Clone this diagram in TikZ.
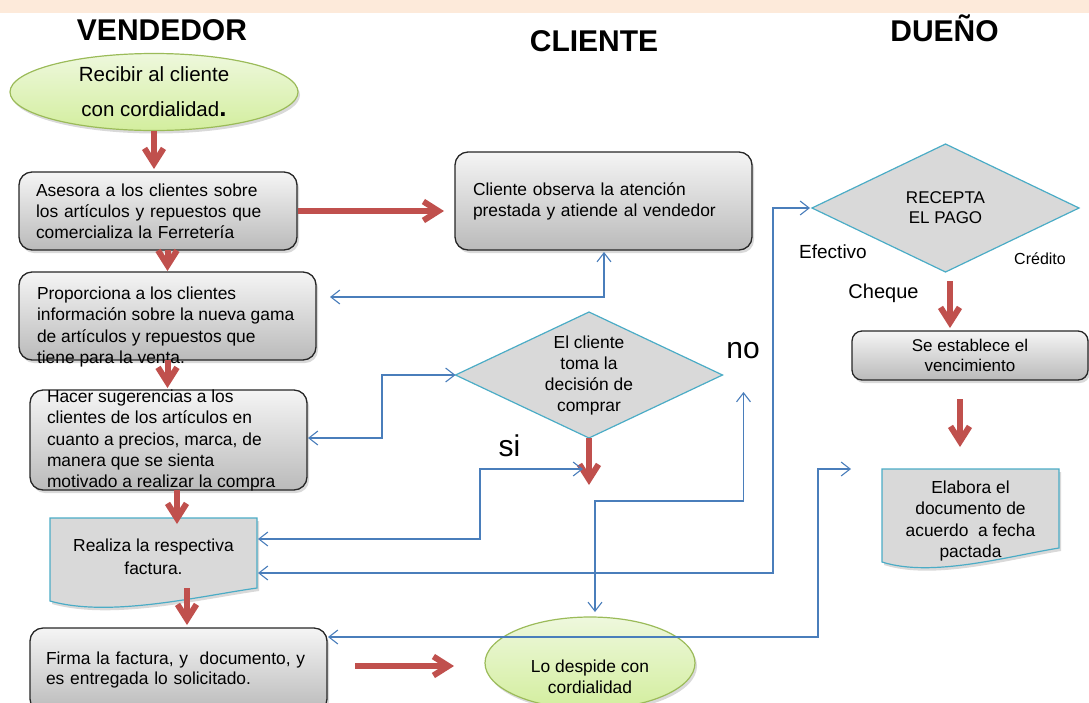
\documentclass[tikz,border=0pt]{standalone}
\usepackage{fontspec}
\setmainfont{Liberation Sans}
\usetikzlibrary{arrows.meta,shapes.geometric,shadows,calc}
\definecolor{bandc}{HTML}{FDEADA}
\definecolor{redar}{HTML}{C0504D}
\definecolor{bluel}{HTML}{4A7EBB}
\definecolor{cyanb}{HTML}{4BACC6}
\definecolor{greenb}{HTML}{9BBB59}
\definecolor{greenl}{HTML}{EEF8DD}
\definecolor{greend}{HTML}{D3EE9E}
\definecolor{grayf}{HTML}{D9D9D9}
\begin{document}
\begin{tikzpicture}[x=1pt,y=-1pt,
  every node/.style={inner sep=0pt, outer sep=0pt, text=black},
  body/.style={font=\fontsize{17.4}{21}\selectfont},
  ttl/.style={font=\fontsize{30}{36}\selectfont\bfseries, anchor=base},
  shd/.style={drop shadow={shadow xshift=2pt, shadow yshift=-3pt, opacity=0.3}},
  rbox/.style={rectangle, draw=black!85, line width=1.3pt, rounded corners=13pt, top color=black!4, bottom color=black!27, shd},
  gell/.style={ellipse, draw=greenb, line width=1.2pt, top color=greenl, bottom color=greend, shd},
  dia/.style={diamond, draw=cyanb, line width=1.2pt, fill=grayf},
  docf/.style={draw=cyanb, line width=1.2pt, fill=grayf, shd},
  redarrow/.style={draw=redar, line width=6pt, -{Straight Barb[length=15pt,width=19pt]}},
  conn/.style={draw=bluel, line width=1.1pt, {Straight Barb[length=9pt,width=14pt]}-{Straight Barb[length=9pt,width=14pt]}},
  txtl/.style={body, align=left},
  txtc/.style={body, align=center},
  lbl/.style={anchor=base}
]
\useasboundingbox (0,0) rectangle (1089,702);
\fill[bandc] (0,0) rectangle (1089,13);

% titles
\node[ttl] (tv) at (162,40.5) {VENDEDOR};
\node[ttl] (tc) at (594,51.7) {CLIENTE};
\node[ttl] (td) at (944.5,41.5) {DUEÑO};

% vendedor column
\node[gell, minimum width=288pt, minimum height=77pt, align=center, font=\fontsize{20.5}{35}\selectfont] (rec) at (154,92) {Recibir al cliente\\con cordialidad{\fontsize{26}{26}\selectfont\bfseries .}};
\node[rbox, minimum width=278pt, minimum height=78pt, text width=244pt, inner xsep=17pt, txtl] (ase) at (158,211) {Asesora a los clientes sobre\\los artículos y repuestos que\\comercializa la Ferretería};
\node[rbox, minimum width=297pt, minimum height=88pt] (prop) at (167.5,316) {};
\node[txtl, font=\fontsize{17.4}{21.3}\selectfont, anchor=west] (propt) at ($(prop.west)+(18,11)$) {Proporciona a los clientes\\información sobre la nueva gama\\de artículos y repuestos que\\tiene para la venta.};
\node[rbox, minimum width=277pt, minimum height=100pt] (hac) at (168.5,440) {};
\node[txtl, font=\fontsize{17.4}{21.25}\selectfont, anchor=west] (hact) at ($(hac.west)+(17,0.5)$) {Hacer sugerencias a los\\clientes de los artículos en\\cuanto a precios, marca, de\\manera que se sienta\\motivado a realizar la compra};
\node[minimum width=207pt, minimum height=70pt] (real) at (153.5,553) {};
\filldraw[docf] (real.north west) -- (real.north east) -- (real.south east) .. controls ($(real.south east)+(-57,8)$) and ($(real.south west)+(60,30)$) .. ($(real.south west)+(0,13)$) -- cycle;
\node[txtc, font=\fontsize{17.4}{23}\selectfont] (realt) at ($(real.center)+(0,3.5)$) {Realiza la respectiva\\factura.};
\node[rbox, minimum width=297pt, minimum height=84pt, text width=265pt, inner xsep=16pt, txtl, font=\fontsize{17.4}{20.5}\selectfont] (fir) at (178.5,670) {Firma la factura, y\ \ documento, y\\es entregada lo solicitado.};

% cliente column
\node[rbox, minimum width=297pt, minimum height=98pt, text width=261pt, inner xsep=18pt, txtl] (cli) at (603.5,201) {Cliente observa la atención\\prestada y atiende al vendedor};
\node[dia, minimum width=267pt, minimum height=126pt] (dec) at (589,375) {};
\node[txtc] (dect) at (dec.center) {El cliente\\toma la\\decisión de\\comprar};
\node[gell, minimum width=210pt, minimum height=92pt] (desp) at (590,663) {};
\node[txtc] (despt) at ($(desp.center)+(0,13.5)$) {Lo despide con\\cordialidad};

% dueno column
\node[dia, minimum width=267pt, minimum height=128pt] (recp) at (945.5,208) {};
\node[txtc, font=\fontsize{17}{20}\selectfont] (recpt) at (recp.center) {RECEPTA\\EL PAGO};
\node[rbox, rounded corners=10pt, minimum width=236pt, minimum height=49pt, txtc, font=\fontsize{17}{20}\selectfont] (est) at (970,355.5) {Se establece el\\vencimiento};
\node[minimum width=177pt, minimum height=79pt] (ela) at (970.5,508.5) {};
\filldraw[docf] (ela.north west) -- (ela.north east) -- (ela.south east) .. controls ($(ela.south east)+(-50,8)$) and ($(ela.south west)+(50,30)$) .. ($(ela.south west)+(0,14)$) -- cycle;
\node[txtc, font=\fontsize{17.4}{21.3}\selectfont] (elat) at ($(ela.center)+(0,12.5)$) {Elabora el\\documento de\\acuerdo\ \ a fecha\\pactada};

% labels
\node[lbl, font=\fontsize{19}{19}\selectfont] (efe) at (833,258) {Efectivo};
\node[lbl, font=\fontsize{16}{16}\selectfont] (cre) at (1040,264) {Crédito};
\node[lbl, font=\fontsize{20}{20}\selectfont] (che) at (883.5,298) {Cheque};
\node[lbl, font=\fontsize{30}{30}\selectfont] (no) at (743,358) {no};
\node[lbl, font=\fontsize{30}{30}\selectfont] (si) at (509.5,456) {si};

% red arrows
\draw[redarrow] (rec.south) -- ($(rec.south |- ase.north)+(0,-3)$);
\draw[redarrow] (prop.north |- ase.south) -- ($(prop.north)+(0,-1)$);
\draw[redarrow] (prop.south) -- ($(prop.south |- hac.north)+(0,-2)$);
\draw[redarrow] ($(hac.south)+(8.5,0)$) -- ($(real.north)+(23.5,6)$);
\draw[redarrow] ($(real.south)+(33.5,0)$) -- ($(fir.north)+(8.5,-3)$);
\draw[redarrow] ($(ase.east)+(1,0)$) -- ($(cli.west |- ase.east)+(-11,0)$);
\draw[redarrow] ($(fir.east)+(28,-4)$) -- ($(desp.west |- fir.east)+(-31,-4)$);
\draw[redarrow] (dec.south) -- ($(dec.south)+(0,47)$);
\draw[redarrow] ($(recp.south)+(4.5,9)$) -- ($(est.north)+(-20,-3)$);
\draw[redarrow] ($(est.south)+(-10,19)$) -- ($(ela.north)+(-10.5,-22)$);

% blue connectors
\draw[conn] ($(prop.east)+(14,-19)$) -| ($(cli.south)+(0.5,2)$);
\draw[conn] ($(hac.east)+(1,-2)$) -- ($(hac.east)+(75,-2)$) |- (dec.west);
\draw[conn] ($(real.east)+(1,-14)$) -- ($(real.east)+(223,-14)$) |- ($(dec.south)+(-6,31)$);
\draw[conn] ($(real.east)+(1,20)$) -- ($(recp.west |- real.east)+(-39,20)$) |- ($(recp.west)+(-2,0)$);
\draw[conn] ($(dec.east)+(21,17)$) |- ($(desp.north)+(5,-116)$) -- ($(desp.north)+(5,-5)$);
\draw[conn] ($(fir.east)+(1,-33)$) -- ($(ela.west |- fir.east)+(-64,-33)$) |- ($(ela.north west)+(-31,0)$);
\end{tikzpicture}
\end{document}
